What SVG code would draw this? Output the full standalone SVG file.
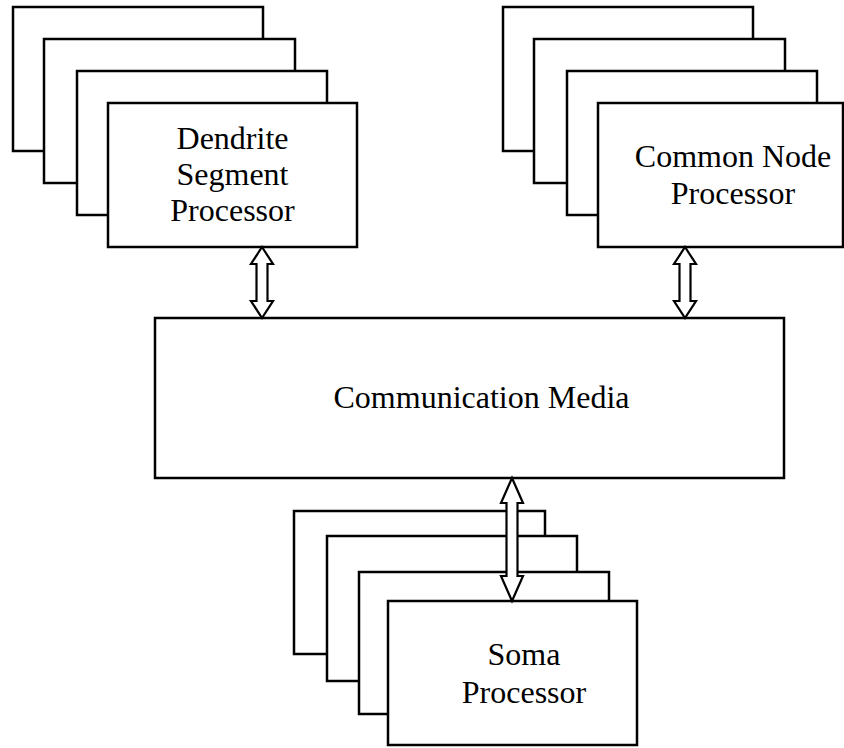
<svg xmlns="http://www.w3.org/2000/svg" width="844" height="748" viewBox="0 0 844 748">
<style>
rect{fill:#fff;stroke:#000;stroke-width:2.5}
.arr{fill:#fff;stroke:#000;stroke-width:2.2;stroke-linejoin:miter}
text{font-family:"Liberation Serif","Times New Roman",serif;font-size:32px;fill:#000;text-anchor:middle}
</style>
<rect x="0" y="0" width="844" height="748" style="stroke:none"/>
<g id="dendrite">
<rect x="13" y="7" width="250" height="144"/>
<rect x="44" y="39" width="251" height="144"/>
<rect x="77" y="71" width="250" height="144"/>
<rect x="108" y="103" width="249" height="144"/>
<text x="232.5" y="149">Dendrite</text>
<text x="232.5" y="185">Segment</text>
<text x="232.5" y="221">Processor</text>
</g>
<g id="common">
<rect x="503" y="7" width="250" height="144"/>
<rect x="534" y="39" width="251" height="144"/>
<rect x="567" y="71" width="250" height="144"/>
<rect x="598" y="103" width="245" height="144"/>
<text x="733" y="167">Common Node</text>
<text x="733" y="204">Processor</text>
</g>
<g id="media">
<rect x="155" y="318" width="629" height="160"/>
<text x="481.5" y="408">Communication Media</text>
</g>
<g id="soma">
<rect x="294" y="511" width="251" height="143"/>
<rect x="327" y="536" width="250" height="145"/>
<rect x="359" y="572" width="250" height="142"/>
<rect x="388" y="601" width="249" height="144"/>
<text x="524" y="665">Soma</text>
<text x="524" y="703">Processor</text>
</g>
<g id="connectors">
<polygon class="arr" points="262,247 273,264 267.5,264 267.5,301 273,301 262,318 251,301 256.5,301 256.5,264 251,264"/>
<polygon class="arr" points="685,247 696,264 690.5,264 690.5,301 696,301 685,318 674,301 679.5,301 679.5,264 674,264"/>
<polygon class="arr" points="512,478 523,503 517.5,503 517.5,576 523,576 512,601 501,576 506.5,576 506.5,503 501,503"/>
</g>
</svg>
